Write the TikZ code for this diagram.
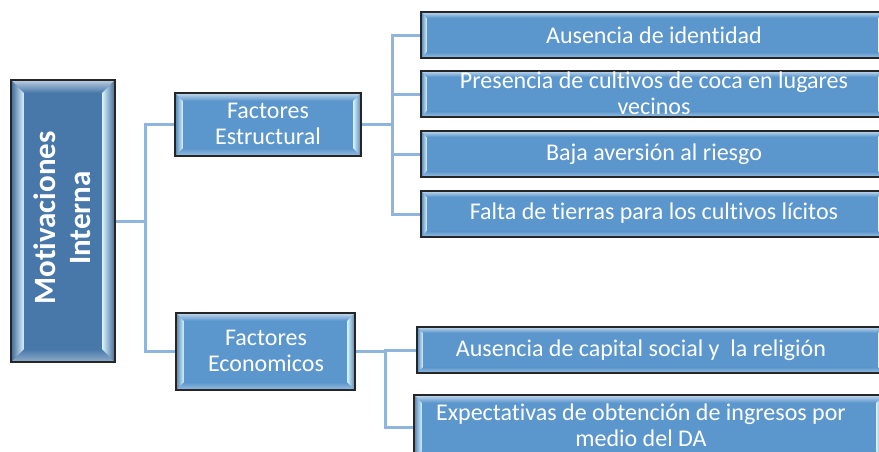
\documentclass[tikz,border=0pt]{standalone}
\usepackage{fontspec}
\setmainfont{Carlito}[Ligatures=NoCommon]
\usetikzlibrary{calc}
\definecolor{basec}{RGB}{91,150,205}
\definecolor{mainc}{RGB}{72,120,170}
\definecolor{linec}{RGB}{143,180,222}
\definecolor{hil}{RGB}{214,242,255}
\newcommand\bevelbox[3]{%
  \coordinate (#1-a) at ($(#1.north west)+(#2,#2)$);
  \coordinate (#1-b) at ($(#1.north east)+(-#2,#2)$);
  \coordinate (#1-c) at ($(#1.south east)+(-#2,-#2)$);
  \coordinate (#1-d) at ($(#1.south west)+(#2,-#2)$);
  \fill[#3] (#1.south west) rectangle (#1.north east);
  \shade[top color=#3!35!white, bottom color=#3] (#1.north west) -- (#1.north east) -- (#1-b) -- (#1-a) -- cycle;
  \shade[top color=#3, bottom color=#3!60!white] (#1.south west) -- (#1.south east) -- (#1-c) -- (#1-d) -- cycle;
  \shade[left color=#3!85!black, right color=hil] (#1.north west) -- (#1-a) -- (#1-d) -- (#1.south west) -- cycle;
  \shade[left color=hil, right color=#3!85!black] (#1.north east) -- (#1-b) -- (#1-c) -- (#1.south east) -- cycle;
  \draw[boxline] (#1.south west) rectangle (#1.north east);
}
\tikzset{
  boxshape/.style={inner sep=0pt, draw=none},
  conn/.style={draw=linec, line width=3pt},
  boxline/.style={draw=black!85, line width=1.5pt},
  txt/.style={text=white, align=center, inner sep=0pt, font=\fontsize{24}{26}\selectfont},
  maintxt/.style={text=white, align=center, inner sep=0pt, rotate=90, font=\fontsize{31}{35}\selectfont\bfseries}
}
\begin{document}
\begin{tikzpicture}[x=1pt, y=-1pt]
\useasboundingbox (0,0) rectangle (879,451);
\clip (0,0) rectangle (879,451);
% box anchors
\node[boxshape, minimum width=104pt, minimum height=282pt] (main) at (63,221) {};
\node[boxshape, minimum width=186pt, minimum height=63pt] (fe) at (268,124.5) {};
\node[boxshape, minimum width=179pt, minimum height=77pt] (feco) at (265.5,351.5) {};
\node[boxshape, minimum width=463pt, minimum height=46pt] (t1) at (652.5,35) {};
\node[boxshape, minimum width=463pt, minimum height=46pt] (t2) at (652.5,94) {};
\node[boxshape, minimum width=463pt, minimum height=46pt] (t3) at (652.5,154) {};
\node[boxshape, minimum width=463pt, minimum height=46pt] (t4) at (652.5,214) {};
\node[boxshape, minimum width=467pt, minimum height=46pt] (l1) at (650.5,350) {};
\node[boxshape, minimum width=470pt, minimum height=64pt] (l2) at (649,427) {};
\coordinate (j1) at (145,221);
\coordinate (j2) at (392,124.5);
\coordinate (j3) at (385,351.5);
% connectors
\draw[conn] (main.east) -- (j1);
\draw[conn] (j1) |- (fe.west);
\draw[conn] (j1) |- (feco.west);
\draw[conn] (fe.east) -- (j2);
\draw[conn] (j2) |- (t1.west);
\draw[conn] (j2) |- (t2.west);
\draw[conn] (j2) |- (t3.west);
\draw[conn] (j2) |- (t4.west);
\draw[conn] (feco.east) -- (j3);
\draw[conn] (j3) |- (l1.west);
\draw[conn] (j3) |- (l2.west);
% boxes
\bevelbox{main}{13}{mainc}
\bevelbox{fe}{8}{basec}
\bevelbox{feco}{8}{basec}
\bevelbox{t1}{6}{basec}
\bevelbox{t2}{6}{basec}
\bevelbox{t3}{6}{basec}
\bevelbox{t4}{6}{basec}
\bevelbox{l1}{6}{basec}
\bevelbox{l2}{8}{basec}
% texts
\node[maintxt] (main-text) at (62,218) {Motivaciones\\Interna};
\node[txt] (fe-text) at (268,124) {Factores\\Estructural};
\node[txt] (feco-text) at (266,351) {Factores\\Economicos};
\node[txt] (t1-text) at (654,35) {Ausencia de identidad};
\node[txt] (t2-text) at (654,93) {Presencia de cultivos de coca en lugares\\vecinos};
\node[txt] (t3-text) at (654,154) {Baja aversión al riesgo};
\node[txt] (t4-text) at (654,213) {Falta de tierras para los cultivos lícitos};
\node[txt] (l1-text) at (641,350) {Ausencia de capital social y\ \ la religión};
\node[txt] (l2-text) at (641,425) {Expectativas de obtención de ingresos por\\medio del DA};
\end{tikzpicture}
\end{document}
